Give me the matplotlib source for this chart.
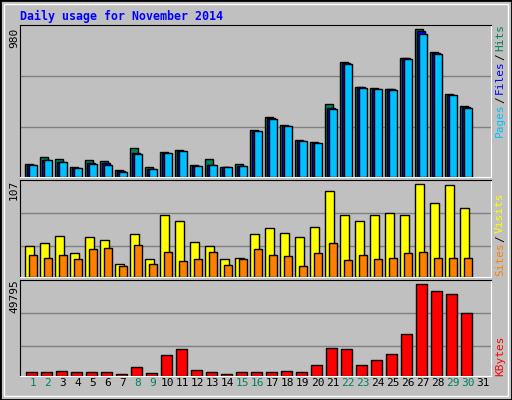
import matplotlib
matplotlib.use("Agg")
import matplotlib.pyplot as plt
from matplotlib.patches import Rectangle

# 数据
days = list(range(1, 31))
hits = [84, 129, 115, 62, 109, 104, 42, 188, 62, 162, 175, 78, 115, 62, 84,
        310, 397, 344, 244, 231, 483, 758, 596, 590, 583, 789, 980, 829, 550, 470]
files = [78, 109, 95, 55, 91, 91, 35, 157, 51, 157, 173, 73, 78, 62, 71,
         304, 390, 339, 239, 226, 454, 754, 592, 585, 579, 785, 967, 823, 545, 463]
pages = [78, 109, 95, 55, 84, 78, 29, 151, 51, 155, 171, 71, 78, 62, 71,
         304, 384, 337, 237, 224, 450, 749, 588, 583, 576, 783, 949, 816, 541, 457]
visits = [36, 39, 47, 28, 46, 43, 15, 49, 21, 71, 65, 40, 35, 20, 22,
          49, 56, 51, 46, 57, 99, 71, 65, 72, 74, 72, 107, 85, 106, 79]
sites = [25, 22, 25, 21, 32, 33, 12, 37, 15, 29, 18, 21, 29, 13, 21,
         32, 25, 24, 12, 27, 39, 19, 25, 21, 22, 28, 29, 22, 22, 22]
kbytes = [1817, 1817, 2362, 1817, 1817, 1817, 727, 4543, 1272, 11085, 14355, 2907, 1817, 727, 1817,
          1817, 1817, 2362, 1817, 5633, 14900, 14355, 5633, 8358, 11629, 22531, 49795, 45971, 44335, 33978]
weekend_days = [1, 2, 8, 9, 15, 16, 22, 23, 29, 30]

BG = "#C0C0C0"
W, H = 512, 400
fig = plt.figure(figsize=(W / 100, H / 100), dpi=100, facecolor=BG)

# 外框
fig.patches.append(Rectangle((0, 0), 1, 1, transform=fig.transFigure, fill=False,
                             edgecolor="black", linewidth=2))
fig.patches.append(Rectangle((4 / W, 4 / H), 1 - 8 / W, 1 - 8 / H, transform=fig.transFigure,
                             fill=False, edgecolor="white", linewidth=1))


def make_ax(top, bottom, ytop, grid_fracs):
    ax = fig.add_axes([20 / W, 1 - bottom / H, 471 / W, (bottom - top) / H])
    ax.set_facecolor(BG)
    ax.set_xlim(0.667, 32.07)
    ax.set_ylim(0, ytop)
    for f in grid_fracs:
        ax.axhline(f * ytop, color="#808080", linewidth=1, zorder=0)
    ax.set_xticks([])
    ax.set_yticks([])
    for s in ["top", "left"]:
        ax.spines[s].set_color("black")
    for s in ["bottom", "right"]:
        ax.spines[s].set_color("white")
    return ax


ax1 = make_ax(25, 176.7, 1006.5, [0.328, 0.664])
ax2 = make_ax(180, 276.7, 112, [0.314, 0.656])
ax3 = make_ax(280, 375.7, 52137, [0.307, 0.652])

d = days
kw = dict(align="edge", edgecolor="black", linewidth=1)
ax1.bar([x for x in d], hits, width=0.55, color="#00805C", **kw)
ax1.bar([x + 0.13 for x in d], files, width=0.52, color="#0000FF", **kw)
ax1.bar([x + 0.27 for x in d], pages, width=0.5, color="#00C0FF", **kw)

ax2.bar([x for x in d], visits, width=0.57, color="#FFFF00", **kw)
ax2.bar([x + 0.27 for x in d], sites, width=0.5, color="#FF8000", **kw)

ax3.bar([x + 0.07 for x in d], kbytes, width=0.7, color="#FF0000", **kw)

mono = "DejaVu Sans Mono"
fig.text(20 / W, 1 - 16 / H, "Daily usage for November 2014", color="#0000FF",
         family=mono, weight="bold", fontsize=8.4, va="center", ha="left")

# 左侧最大值
for txt, y in [("980", 38), ("107", 190), ("49795", 296)]:
    fig.text(14 / W, 1 - y / H, txt, rotation=90, family=mono, fontsize=8,
             ha="center", va="center")

# 右侧图例文字
def vlabel(parts, y_bottom):
    y = y_bottom
    for txt, col in parts:
        t = fig.text(500 / W, 1 - y / H, txt, rotation=90, family=mono, fontsize=8,
                     color=col, ha="center", va="bottom")
        y -= len(txt) * 6.2 + 3

vlabel([("Pages", "#00C0FF"), ("/", "black"), ("Files", "#0000FF"), ("/", "black"),
        ("Hits", "#00805C")], 137)
vlabel([("Sites", "#FF8000"), ("/", "black"), ("Visits", "#FFFF00")], 276)
vlabel([("KBytes", "#FF0000")], 376)

# 日期标签
for day in range(1, 32):
    col = "#00805C" if day in weekend_days else "black"
    ax3.text(day + 0.53, -0.08, str(day), transform=ax3.get_xaxis_transform(),
             ha="center", va="center", family=mono, fontsize=8, color=col)

fig.savefig("out.png", dpi=100, facecolor=BG)
